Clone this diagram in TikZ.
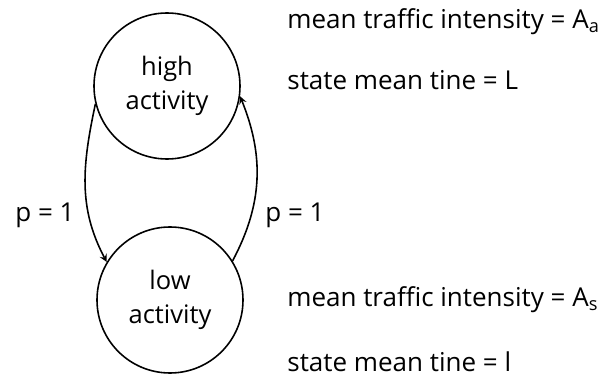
\documentclass[tikz,border=0pt]{standalone}
\usepackage{fontspec}
\setmainfont{Open Sans}
\usepackage{tikz}

\begin{document}
\begin{tikzpicture}[
	state/.style={draw, circle, line width=0.9pt, minimum size=2.92cm, inner sep=0pt, align=center, font=\fontsize{14.5}{19}\selectfont},
	info/.style={anchor=west, inner sep=0pt, font=\fontsize{14.8}{17}\selectfont}
]
	\useasboundingbox (0, 0) rectangle (12.14, 7.56);
	\node[state] (high) at (3.34, 5.84) {high\\activity};
	\node[state] (low) at (3.4, 1.56) {low\\activity};

	\draw[line width=0.9pt, ->, >=stealth] (high.194) to[out=258, in=118] (low.149);
	\draw[line width=0.9pt, ->, >=stealth] (low.32) to[out=62, in=292] (high.352);
	\node[info] (pl) at (0.3, 3.26) {p = 1};
	\node[info] (pr) at (5.3, 3.26) {p = 1};

	\node[info] (ia) at (5.74, 7.12) {mean traffic intensity = A\textsubscript{a}};
	\node[info] (ta) at (5.74, 5.96) {state mean tine = L};
	\node[info] (is) at (5.74, 1.56) {mean traffic intensity = A\textsubscript{s}};
	\node[info] (ts) at (5.74, 0.32) {state mean tine = l};
\end{tikzpicture}
\end{document}
